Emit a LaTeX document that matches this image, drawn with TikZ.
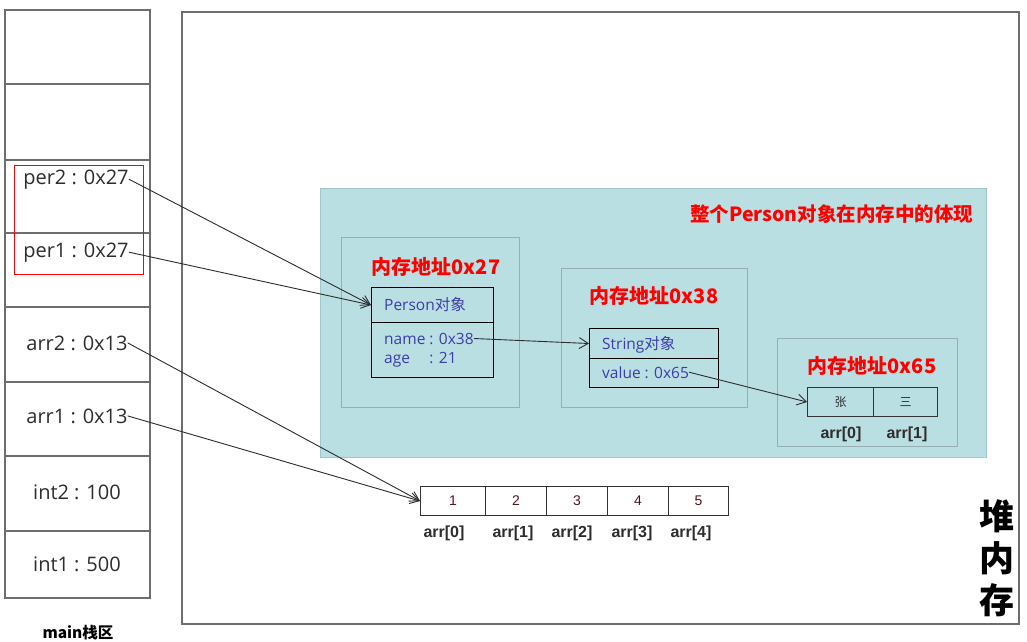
\documentclass[tikz,border=0pt]{standalone}
\usepackage{fontspec}
\setmainfont{Open Sans}
\newfontfamily\cjk{Noto Sans CJK SC}
\newfontfamily\arialf{Liberation Sans}
\usetikzlibrary{arrows.meta}
\definecolor{stackgray}{RGB}{110,110,110}
\definecolor{txtgray}{RGB}{45,45,45}
\definecolor{tealfill}{RGB}{186,223,226}
\definecolor{tealedge}{RGB}{160,200,204}
\definecolor{inneredge}{RGB}{150,175,178}
\definecolor{objblue}{RGB}{60,60,170}
\definecolor{cellred}{RGB}{80,20,30}
\tikzset{
  stackline/.style={draw=stackgray, line width=1.3pt},
  stacktxt/.style={inner sep=0pt, anchor=base, text=txtgray, font=\fontsize{20}{24}\selectfont},
  redtitle/.style={inner sep=0pt, text=red, font=\cjk\bfseries\fontsize{20}{24}\selectfont},
  objbox/.style={draw=black, line width=1pt, inner sep=0pt, anchor=north west},
  bluetxt/.style={inner sep=0pt, anchor=base west, text=objblue, font=\fontsize{15.5}{18}\selectfont},
  arrcell/.style={draw=black!80, line width=1pt, inner sep=0pt, anchor=north west, minimum height=29pt, text=cellred, font=\arialf\fontsize{14}{16}\selectfont},
  arrlbl/.style={inner sep=0pt, anchor=base, text=txtgray, font=\arialf\bfseries\fontsize{16}{18}\selectfont},
  ptr/.style={draw=txtgray, line width=0.9pt, -{Straight Barb[length=9pt,width=11pt]}},
}
\begin{document}
\begin{tikzpicture}[x=1pt,y=-1pt]
\useasboundingbox (0,0) rectangle (1027,641);
\fill[white] (0,0) rectangle (1027,641);
% stack
\draw[stackline] (5,10) rectangle (150,598);
\foreach \yy in {84,160,233,307,382,456,531} \draw[stackline] (5,\yy) -- (150,\yy);
\draw[red, line width=1pt] (14,165) rectangle (143,274);
\node[stacktxt] (per2) at (76,184) {per2 : 0x27};
\node[stacktxt] (per1) at (76,257) {per1 : 0x27};
\node[stacktxt] (arr2) at (77,350) {arr2 : 0x13};
\node[stacktxt] (arr1) at (77,423) {arr1 : 0x13};
\node[stacktxt] (int2) at (77,499) {int2 : 100};
\node[stacktxt] (int1) at (77,571) {int1 : 500};
\node[inner sep=0pt, anchor=base, text=black, font=\cjk\bfseries\fontsize{15.5}{18}\selectfont] (mainlbl) at (78,638) {main栈区};
% heap
\draw[draw=stackgray, line width=1.3pt] (182,12) rectangle (1019,624);
\node[inner sep=0pt, align=center, text=black, font=\cjk\bfseries\fontsize{35}{42}\selectfont] (heaplbl) at (997,558) {堆\\内\\存};
% teal region
\draw[fill=tealfill, draw=tealedge, line width=1pt] (320,188) rectangle (986,457);
\node[redtitle, anchor=west, font=\cjk\bfseries\fontsize{19.5}{22}\selectfont] (whole) at (690,214) {整个Person对象在内存中的体现};
% 0x27
\draw[draw=inneredge, line width=1pt] (341,237) rectangle (519,407);
\node[redtitle] (t27) at (436,267) {内存地址0x27};
\node[objbox, minimum width=122pt, minimum height=35pt] (phead) at (371,287) {};
\node[objbox, minimum width=122pt, minimum height=55pt] (pbody) at (371,322) {};
\node[bluetxt] (ptitle) at (384,310) {Person{\cjk 对象}};
\node[bluetxt] (pname) at (384,344) {name : 0x38};
\node[bluetxt] (page) at (384,363) {\rlap{age}\phantom{name} : 21};
% 0x38
\draw[draw=inneredge, line width=1pt] (561,268) rectangle (747,407);
\node[redtitle] (t38) at (654,296) {内存地址0x38};
\node[objbox, minimum width=129pt, minimum height=30pt] (shead) at (589,328) {};
\node[objbox, minimum width=129pt, minimum height=29pt] (sbody) at (589,358) {};
\node[bluetxt] (stitle) at (602,349) {String{\cjk 对象}};
\node[bluetxt] (sval) at (602,378) {value : 0x65};
% 0x65
\draw[draw=inneredge, line width=1pt] (777,338) rectangle (957,446);
\node[redtitle] (t65) at (872,366) {内存地址0x65};
\node[arrcell, minimum width=66pt, text=txtgray, font=\cjk\fontsize{12}{14}\selectfont] (z1) at (807,387) {张};
\node[arrcell, minimum width=64pt, text=txtgray, font=\cjk\fontsize{12}{14}\selectfont] (z2) at (873,387) {三};
\node[arrlbl] (zl1) at (841,438) {arr[0]};
\node[arrlbl] (zl2) at (907,438) {arr[1]};
% int array
\node[arrcell, minimum width=65pt] (a1) at (420,486) {1};
\node[arrcell, minimum width=61pt] (a2) at (485,486) {2};
\node[arrcell, minimum width=61pt] (a3) at (546,486) {3};
\node[arrcell, minimum width=61pt] (a4) at (607,486) {4};
\node[arrcell, minimum width=60pt] (a5) at (668,486) {5};
\node[arrlbl] (al1) at (444,537) {arr[0]};
\node[arrlbl] (al2) at (513,537) {arr[1]};
\node[arrlbl] (al3) at (572,537) {arr[2]};
\node[arrlbl] (al4) at (632,537) {arr[3]};
\node[arrlbl] (al5) at (691,537) {arr[4]};
% pointers
\draw[ptr] (per2.east) -- (phead.west);
\draw[ptr] (per1.east) -- (phead.west);
\draw[ptr] (pname.east) -- (shead.west);
\draw[ptr] (sval.east) -- (z1.west);
\draw[ptr] (arr2.east) -- (a1.west);
\draw[ptr] (arr1.east) -- (a1.west);
\end{tikzpicture}
\end{document}
